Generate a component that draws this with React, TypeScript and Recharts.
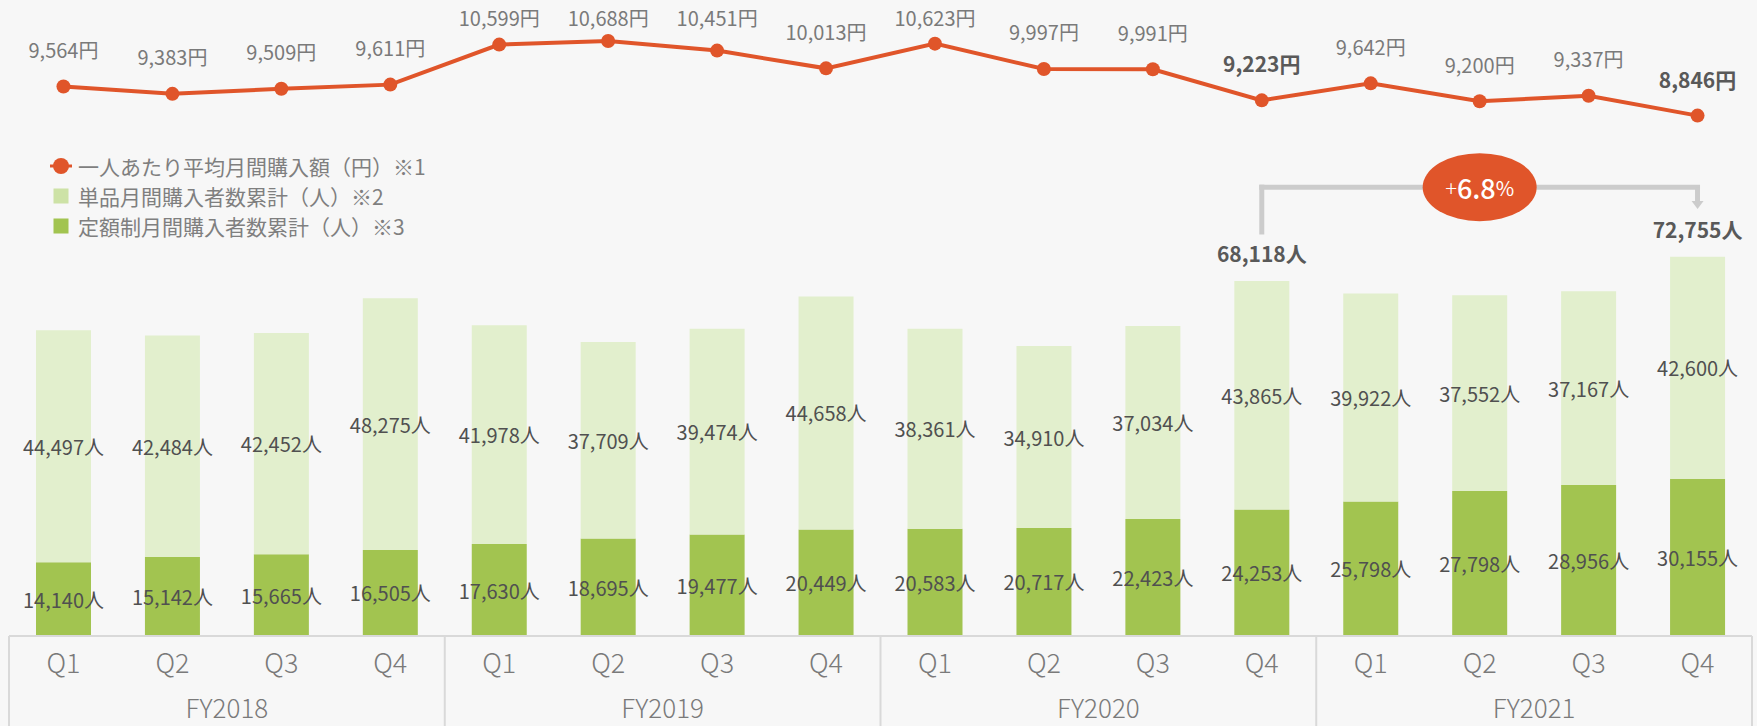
import React from 'react';
import { ComposedChart, Bar, Line, XAxis, YAxis, LabelList, Legend, ReferenceLine, ReferenceDot } from 'recharts';

const quarters = ['Q1', 'Q2', 'Q3', 'Q4', 'Q1', 'Q2', 'Q3', 'Q4', 'Q1', 'Q2', 'Q3', 'Q4', 'Q1', 'Q2', 'Q3', 'Q4'];
const fiscalYears = ['FY2018', 'FY2018', 'FY2018', 'FY2018', 'FY2019', 'FY2019', 'FY2019', 'FY2019', 'FY2020', 'FY2020', 'FY2020', 'FY2020', 'FY2021', 'FY2021', 'FY2021', 'FY2021'];
const singleBuyers = [44497, 42484, 42452, 48275, 41978, 37709, 39474, 44658, 38361, 34910, 37034, 43865, 39922, 37552, 37167, 42600];
const subscriptionBuyers = [14140, 15142, 15665, 16505, 17630, 18695, 19477, 20449, 20583, 20717, 22423, 24253, 25798, 27798, 28956, 30155];
const avgSpend = [9564, 9383, 9509, 9611, 10599, 10688, 10451, 10013, 10623, 9997, 9991, 9223, 9642, 9200, 9337, 8846];
const highlightIdx = [11, 15];
const growthLabel = { sign: '+', num: '6.8', pct: '%' };

const seriesNames = {
  spend: '一人あたり平均月間購入額（円）※1',
  single: '単品月間購入者数累計（人）※2',
  sub: '定額制月間購入者数累計（人）※3',
};

const data = quarters.map((q, i) => {
  const total = singleBuyers[i] + subscriptionBuyers[i];
  const hl = highlightIdx.includes(i);
  return {
    key: `${fiscalYears[i]}-${q}`,
    fy: fiscalYears[i],
    single: singleBuyers[i],
    sub: subscriptionBuyers[i],
    spend: avgSpend[i],
    spendNormal: hl ? null : avgSpend[i],
    spendBold: hl ? avgSpend[i] : null,
    totalBold: hl ? total : null,
  };
});

const fromKey = data[highlightIdx[0]].key;
const toKey = data[highlightIdx[1]].key;
const midKey = data[13].key;

// annotation levels (bar-axis units)
const bracketBottom = 77500;
const bracketLevel = 86100;
const arrowStart = 83100;
const arrowTip = 81900;

const W = 1757;
const H = 726;
const M = { top: 0, right: 5, left: 9, bottom: 0 };
const PLOT_W = W - M.left - M.right;
const FY_W = PLOT_W / 4;

const FONT = '"Noto Sans CJK JP", "Noto Sans", sans-serif';
const ORANGE = '#e0552a';
const LIGHT = '#e2efcd';
const DARK = '#a2c450';
const AXIS_LINE = '#d9d9d9';

const fmt = (v: number) => v.toLocaleString('en-US');

const QTick = (props: any) => {
  const { x, y, payload } = props;
  const label = String(payload.value).split('-')[1];
  return (
    <text x={x} y={y + 25} textAnchor="middle" dominantBaseline="central" fill="#7a7a7a" fontSize={27} fontFamily={FONT} fontWeight={300}>
      {label}
    </text>
  );
};

const FYTick = (props: any) => {
  const { x, y, payload, index } = props;
  return (
    <g>
      <line x1={x - FY_W / 2} x2={x - FY_W / 2} y1={y - 50} y2={y + 45} stroke={AXIS_LINE} strokeWidth={2} />
      {index === 3 && <line x1={x + FY_W / 2} x2={x + FY_W / 2} y1={y - 50} y2={y + 45} stroke={AXIS_LINE} strokeWidth={2} />}
      <text x={x} y={y + 20} textAnchor="middle" dominantBaseline="central" fill="#7a7a7a" fontSize={26} fontFamily={FONT} fontWeight={300}>
        {payload.value}
      </text>
    </g>
  );
};

const barLabel = (props: any) => {
  const { x, y, width, height, value } = props;
  if (value == null) return null;
  return (
    <text x={x + width / 2} y={y + height / 2} textAnchor="middle" dominantBaseline="central" fill="#505050" fontSize={20} fontFamily={FONT}>
      {fmt(value)}人
    </text>
  );
};

const totalLabel = (props: any) => {
  const { x, y, width, value } = props;
  if (value == null) return null;
  return (
    <text x={x + width / 2} y={y - 28} textAnchor="middle" dominantBaseline="central" fill="#595959" fontSize={21} fontWeight="bold" fontFamily={FONT}>
      {fmt(value)}人
    </text>
  );
};

const spendLabel = (bold: boolean) => (props: any) => {
  const { x, y, value } = props;
  if (value == null) return null;
  return (
    <text x={x} y={Math.max(17, y - 37)} textAnchor="middle" dominantBaseline="central" fill={bold ? '#595959' : '#7a7a7a'} fontSize={bold ? 21 : 20} fontWeight={bold ? 'bold' : 'normal'} fontFamily={FONT}>
      {fmt(value)}円
    </text>
  );
};

const arrowHead = (props: any) => {
  const { cx, cy } = props;
  return <polygon points={`${cx - 6},${cy - 8} ${cx + 6},${cy - 8} ${cx},${cy}`} fill="#cccccc" />;
};

const growthBubble = (props: any) => {
  const { cx, cy } = props;
  return (
    <g>
      <ellipse cx={cx} cy={cy} rx={57} ry={34} fill={ORANGE} />
      <text x={cx} y={cy} textAnchor="middle" dominantBaseline="central" fill="#ffffff" fontFamily={FONT}>
        <tspan fontSize={22} fontWeight={300}>{growthLabel.sign}</tspan>
        <tspan fontSize={27} fontWeight={500}>{growthLabel.num}</tspan>
        <tspan fontSize={20}>{growthLabel.pct}</tspan>
      </text>
    </g>
  );
};

const legendRows = [
  { key: 'spend', name: seriesNames.spend, color: ORANGE, type: 'line' },
  { key: 'single', name: seriesNames.single, color: '#cde2a6', type: 'square' },
  { key: 'sub', name: seriesNames.sub, color: DARK, type: 'square' },
];

const renderLegend = () => (
  <div style={{ fontFamily: FONT }}>
    {legendRows.map((r) => (
      <div key={r.key} style={{ display: 'flex', alignItems: 'center', height: 30 }}>
        <svg width={30} height={30}>
          {r.type === 'line' ? (
            <g>
              <line x1={4} x2={26} y1={15} y2={15} stroke={r.color} strokeWidth={3} />
              <circle cx={15} cy={15} r={8} fill={r.color} />
            </g>
          ) : (
            <rect x={7.5} y={7.5} width={15} height={15} fill={r.color} />
          )}
        </svg>
        <span style={{ marginLeft: 2, fontSize: 21, color: '#7f7f7f', whiteSpace: 'nowrap', lineHeight: '30px' }}>{r.name}</span>
      </div>
    ))}
  </div>
);

export default function App() {
  return (
    <div style={{ position: 'absolute', left: 0, top: 0, width: W, height: H, background: '#f7f7f7', fontFamily: FONT }}>
      <ComposedChart width={W} height={H} data={data} margin={M}>
        <XAxis xAxisId="zfy" dataKey="fy" allowDuplicatedCategory={false} height={40} interval={0} tickSize={0} tickMargin={0}
          tickLine={false} axisLine={false} tick={<FYTick />} />
        <XAxis xAxisId="q" dataKey="key" height={50} interval={0} tickSize={0} tickMargin={0} tickLine={false}
          axisLine={{ stroke: AXIS_LINE, strokeWidth: 2 }} tick={<QTick />} />
        <YAxis yAxisId="bars" hide domain={[0, 122000]} allowDataOverflow />
        <YAxis yAxisId="line" hide orientation="right" domain={[-4000, 11700]} allowDataOverflow />
        <Legend layout="vertical" align="center" verticalAlign="middle" content={renderLegend}
          wrapperStyle={{ left: 46, top: 151, width: 'auto', height: 'auto' }} />
        <Bar xAxisId="q" yAxisId="bars" dataKey="sub" stackId="a" fill={DARK} barSize={55} isAnimationActive={false}>
          <LabelList dataKey="sub" content={barLabel} />
        </Bar>
        <Bar xAxisId="q" yAxisId="bars" dataKey="single" stackId="a" fill={LIGHT} barSize={55} isAnimationActive={false}>
          <LabelList dataKey="single" content={barLabel} />
          <LabelList dataKey="totalBold" content={totalLabel} />
        </Bar>
        <Line xAxisId="q" yAxisId="line" dataKey="spend" stroke={ORANGE} strokeWidth={4}
          dot={{ r: 7, fill: ORANGE, stroke: 'none' }} activeDot={false} isAnimationActive={false}>
          <LabelList dataKey="spendNormal" content={spendLabel(false)} />
          <LabelList dataKey="spendBold" content={spendLabel(true)} />
        </Line>
        <ReferenceLine xAxisId="q" yAxisId="bars" segment={[{ x: fromKey, y: bracketBottom }, { x: fromKey, y: bracketLevel }]}
          stroke="#cccccc" strokeWidth={5} strokeLinecap="square" />
        <ReferenceLine xAxisId="q" yAxisId="bars" segment={[{ x: fromKey, y: bracketLevel }, { x: toKey, y: bracketLevel }]}
          stroke="#cccccc" strokeWidth={5} strokeLinecap="square" />
        <ReferenceLine xAxisId="q" yAxisId="bars" segment={[{ x: toKey, y: bracketLevel }, { x: toKey, y: arrowStart }]}
          stroke="#cccccc" strokeWidth={5} />
        <ReferenceDot xAxisId="q" yAxisId="bars" x={toKey} y={arrowTip} shape={arrowHead} />
        <ReferenceDot xAxisId="q" yAxisId="bars" x={midKey} y={bracketLevel} shape={growthBubble} />
      </ComposedChart>
    </div>
  );
}
